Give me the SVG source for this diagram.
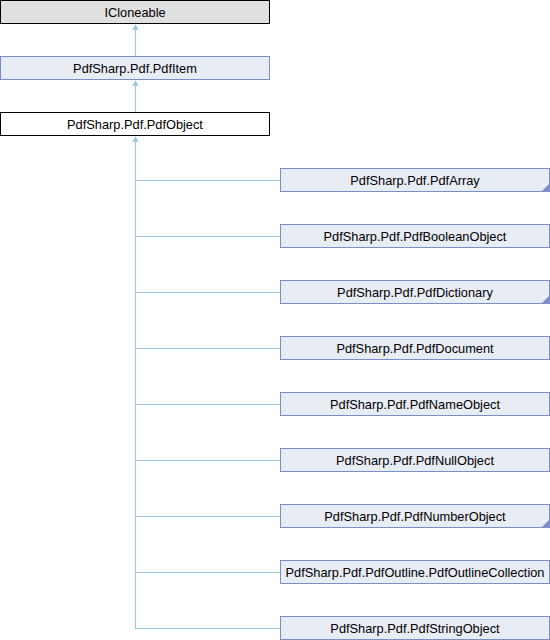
<svg xmlns="http://www.w3.org/2000/svg" width="550" height="640" viewBox="0 0 550 640">
<style>
.n rect{fill:#e8ecf5;stroke:#7b8ec8;stroke-width:1}
.g rect{fill:#e0e0e0;stroke:#000;stroke-width:1}
.w rect{fill:#fff;stroke:#000;stroke-width:1}
text{font-family:"Liberation Sans",Arial,sans-serif;font-size:12.8px;text-anchor:middle;fill:#000}
.e path{fill:none;stroke:#99c8e8;stroke-width:1}
.e polygon{fill:#99c8e8}
.c{fill:#7b8ec8}
</style>
<rect width="550" height="640" fill="#fff"/>
<g class="e" id="edges">
<path d="M135.5,57 V28"/>
<path d="M135.5,112 V84"/>
<path d="M135.5,628.5 V140"/>
<path d="M135,180.5 H280"/>
<path d="M135,236.5 H280"/>
<path d="M135,292.5 H280"/>
<path d="M135,348.5 H280"/>
<path d="M135,404.5 H280"/>
<path d="M135,460.5 H280"/>
<path d="M135,516.5 H280"/>
<path d="M135,572.5 H280"/>
<path d="M135,628.5 H280"/>
<polygon points="135.5,24 132.5,30 138.5,30"/>
<polygon points="135.5,80 132.5,86 138.5,86"/>
<polygon points="135.5,136 132.5,142 138.5,142"/>
</g>
<g id="ICloneable" class="g"><rect x="0.5" y="0.5" width="269" height="23"/><text x="135" y="16.5">ICloneable</text></g>
<g id="PdfItem" class="n"><rect x="0.5" y="56.5" width="269" height="23"/><text x="135" y="72.5">PdfSharp.Pdf.PdfItem</text></g>
<g id="PdfObject" class="w"><rect x="0.5" y="112.5" width="269" height="23"/><text x="135" y="128.5">PdfSharp.Pdf.PdfObject</text></g>
<g id="PdfArray" class="n"><rect x="280.5" y="168.5" width="269" height="23"/><text x="415" y="184.5">PdfSharp.Pdf.PdfArray</text><polygon class="c" points="550,183 550,192 541,192"/></g>
<g id="PdfBooleanObject" class="n"><rect x="280.5" y="224.5" width="269" height="23"/><text x="415" y="240.5">PdfSharp.Pdf.PdfBooleanObject</text></g>
<g id="PdfDictionary" class="n"><rect x="280.5" y="280.5" width="269" height="23"/><text x="415" y="296.5">PdfSharp.Pdf.PdfDictionary</text><polygon class="c" points="550,295 550,304 541,304"/></g>
<g id="PdfDocument" class="n"><rect x="280.5" y="336.5" width="269" height="23"/><text x="415" y="352.5">PdfSharp.Pdf.PdfDocument</text></g>
<g id="PdfNameObject" class="n"><rect x="280.5" y="392.5" width="269" height="23"/><text x="415" y="408.5">PdfSharp.Pdf.PdfNameObject</text></g>
<g id="PdfNullObject" class="n"><rect x="280.5" y="448.5" width="269" height="23"/><text x="415" y="464.5">PdfSharp.Pdf.PdfNullObject</text></g>
<g id="PdfNumberObject" class="n"><rect x="280.5" y="504.5" width="269" height="23"/><text x="415" y="520.5">PdfSharp.Pdf.PdfNumberObject</text><polygon class="c" points="550,519 550,528 541,528"/></g>
<g id="PdfOutlineCollection" class="n"><rect x="280.5" y="560.5" width="269" height="23"/><text x="415" y="576.5">PdfSharp.Pdf.PdfOutline.PdfOutlineCollection</text></g>
<g id="PdfStringObject" class="n"><rect x="280.5" y="616.5" width="269" height="23"/><text x="415" y="632.5">PdfSharp.Pdf.PdfStringObject</text></g>
</svg>
